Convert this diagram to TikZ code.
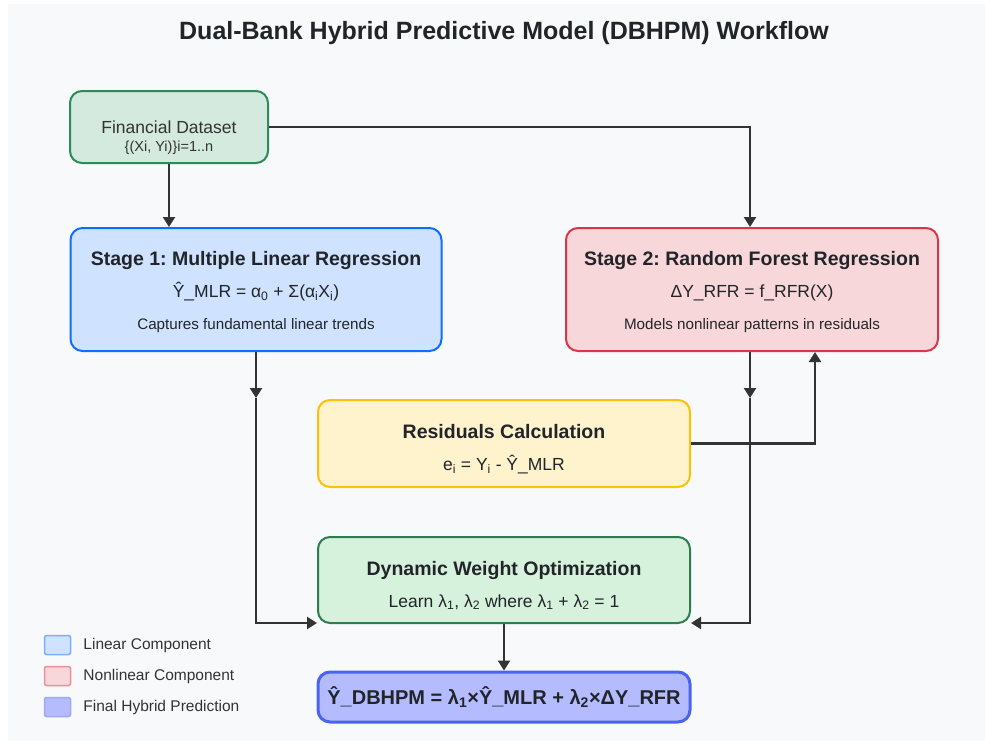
\documentclass[tikz,border=0pt]{standalone}
\usepackage{fontspec}
\setmainfont{Liberation Sans}
\usetikzlibrary{arrows.meta,positioning}
\frenchspacing
\definecolor{panelbg}{RGB}{248,249,250}
\definecolor{ink}{RGB}{33,37,41}
\definecolor{wire}{RGB}{51,51,51}
\definecolor{dataFill}{RGB}{212,234,222}
\definecolor{dataEdge}{RGB}{45,138,90}
\definecolor{linFill}{RGB}{207,226,255}
\definecolor{linEdge}{RGB}{13,110,253}
\definecolor{nonFill}{RGB}{248,215,218}
\definecolor{nonEdge}{RGB}{220,53,69}
\definecolor{resFill}{RGB}{255,243,205}
\definecolor{resEdge}{RGB}{255,193,7}
\definecolor{optFill}{RGB}{214,241,220}
\definecolor{optEdge}{RGB}{46,125,80}
\definecolor{finFill}{RGB}{180,188,255}
\definecolor{finEdge}{RGB}{75,100,240}

\begin{document}
\begin{tikzpicture}[x=1pt,y=-1pt,>={Triangle[length=10pt,width=12pt]},
  box/.style={draw,rounded corners=12pt,line width=2pt,align=center,inner sep=0pt,text=ink,
    font=\fontsize{17.5}{32}\selectfont},
  flow/.style={->,line width=2.2pt,draw=wire},
  legbox/.style={draw,rounded corners=2pt,line width=1.5pt,minimum width=26pt,minimum height=19pt,inner sep=0pt}]
\useasboundingbox (0,0) rectangle (985,744);
\fill[panelbg] (8,4) rectangle (985,741);

\node[font=\fontsize{25}{30}\selectfont\bfseries,text=ink] (title) at (504,33) {Dual-Bank Hybrid Predictive Model (DBHPM) Workflow};

% input data
\node[box,fill=dataFill,draw=dataEdge,minimum width=198pt,minimum height=72pt,text=wire] (data) at (169,127) {Financial Dataset};
\node[font=\fontsize{14.5}{17}\selectfont,text=wire] (datasub) at (169,148) {\{(Xi, Yi)\}i=1..n};

% the two regression stages
\node[box,fill=linFill,draw=linEdge,minimum width=371pt,minimum height=123pt] (s1) at (256,289.5)
  {\rule{0pt}{19pt}{\fontsize{19.5}{24}\selectfont\bfseries Stage 1: Multiple Linear Regression}\\
   Ŷ\_MLR = α\textsubscript{0} + Σ(α\textsubscript{i}X\textsubscript{i})\\
   {\fontsize{15.2}{18}\selectfont Captures fundamental linear trends}};
\node[box,fill=nonFill,draw=nonEdge,minimum width=372pt,minimum height=123pt] (s2) at (752,289.5)
  {\rule{0pt}{19pt}{\fontsize{19.5}{24}\selectfont\bfseries Stage 2: Random Forest Regression}\\
   ΔY\_RFR = f\_RFR(X)\\
   {\fontsize{15.2}{18}\selectfont Models nonlinear patterns in residuals}};

% residuals and weighting
\node[box,fill=resFill,draw=resEdge,minimum width=372pt,minimum height=87pt] (res) at (504,443.5)
  {\rule{0pt}{25pt}{\fontsize{19.5}{24}\selectfont\bfseries Residuals Calculation}\\
   e\textsubscript{i} = Y\textsubscript{i} - Ŷ\_MLR};
\node[box,fill=optFill,draw=optEdge,minimum width=372pt,minimum height=86pt] (opt) at (504,580)
  {\rule{0pt}{25pt}{\fontsize{19.5}{24}\selectfont\bfseries Dynamic Weight Optimization}\\
   Learn λ\textsubscript{1}, λ\textsubscript{2} where λ\textsubscript{1} + λ\textsubscript{2} = 1};

% final prediction
\node[box,fill=finFill,draw=finEdge,line width=3pt,minimum width=372pt,minimum height=50pt,
  font=\fontsize{20}{24}\selectfont\bfseries] (fin) at (504,697)
  {Ŷ\_DBHPM = λ\textsubscript{1}×Ŷ\_MLR + λ\textsubscript{2}×ΔY\_RFR};

% connectors
\coordinate (s1mid) at (s1.south |- 0,398);
\coordinate (s2mid) at ([xshift=-2pt]s2.south |- 0,398);
\draw[flow] (data.south) -- (data.south |- s1.north);
\draw[flow] (data.east) -| ([xshift=-2pt]s2.north);
\draw[flow] (s1.south) -- (s1mid);
\draw[flow] (s1mid) |- ([yshift=1pt]opt.south west);
\draw[flow] ([xshift=-2pt]s2.south) -- (s2mid);
\draw[flow] (s2mid) |- ([yshift=1pt]opt.south east);
\draw[flow] (res.east) -| ([xshift=63pt]s2.south);
\draw[flow] (opt.south) -- (fin.north);

% legend
\foreach \n/\y/\f/\e/\t in {lin/645/linFill/linEdge/Linear Component,
    non/676/nonFill/nonEdge/Nonlinear Component,
    fin/707/finFill/finEdge/Final Hybrid Prediction}{
  \node[legbox,fill=\f,draw=\e!55] (leg\n) at (57.5,\y) {};
  \node[right=12pt of leg\n,inner sep=0pt,font=\fontsize{15.5}{18}\selectfont,text=wire] (leg\n txt) {\t};
}
\end{tikzpicture}
\end{document}
